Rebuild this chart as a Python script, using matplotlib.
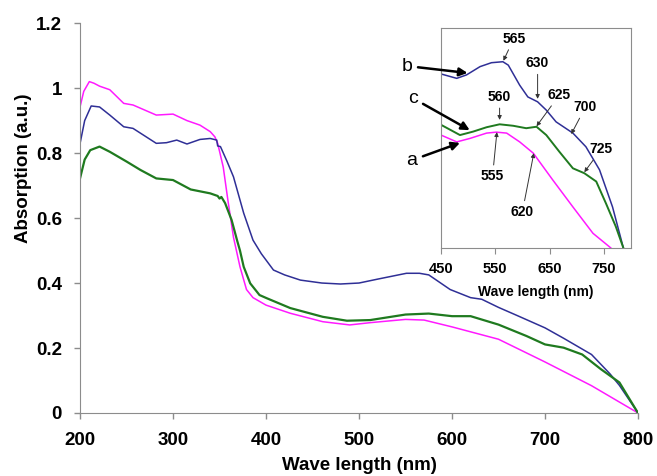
import matplotlib
matplotlib.use('Agg')
import matplotlib.pyplot as plt

plt.rcParams['font.family'] = ['Liberation Sans', 'DejaVu Sans']

# main spectra (wavelength nm, absorption a.u.)
wl_b = [200, 205, 212, 221, 232, 247, 257, 282, 293, 304, 315, 329, 340, 347, 348, 351,
        358, 365, 376, 386, 395, 408, 420, 437, 460, 480, 500, 520, 551, 565, 575, 598,
        620, 632, 650, 670, 700, 720, 750, 770, 780, 800]
abs_b = [0.829, 0.90, 0.945, 0.942, 0.917, 0.881, 0.876, 0.83, 0.832, 0.84, 0.828, 0.842,
         0.845, 0.84, 0.822, 0.82, 0.775, 0.727, 0.615, 0.532, 0.49, 0.44, 0.425, 0.409,
         0.40, 0.397, 0.40, 0.412, 0.43, 0.43, 0.425, 0.38, 0.355, 0.35, 0.325, 0.30,
         0.262, 0.23, 0.18, 0.12, 0.085, 0.0]

wl_a = [200, 204, 210, 215, 221, 232, 247, 257, 282, 300, 315, 329, 340, 345, 348, 354,
        359, 365, 372, 379, 386, 400, 426, 461, 490, 512, 550, 570, 600, 650, 700, 750, 800]
abs_a = [0.942, 0.99, 1.02, 1.015, 1.006, 0.995, 0.953, 0.948, 0.917, 0.92, 0.90, 0.886,
         0.866, 0.85, 0.83, 0.757, 0.655, 0.541, 0.45, 0.38, 0.355, 0.332, 0.307, 0.281,
         0.271, 0.278, 0.288, 0.286, 0.265, 0.227, 0.157, 0.084, 0.0]

wl_c = [200, 205, 211, 221, 232, 250, 265, 282, 300, 319, 340, 348, 350, 352, 356, 363,
        369, 372, 376, 383, 393, 401, 426, 461, 487, 512, 550, 575, 600, 620, 650, 680,
        700, 720, 740, 760, 780, 800]
abs_c = [0.722, 0.78, 0.809, 0.82, 0.804, 0.774, 0.748, 0.722, 0.717, 0.688, 0.676, 0.668,
         0.66, 0.665, 0.646, 0.594, 0.53, 0.50, 0.45, 0.399, 0.363, 0.353, 0.323, 0.296,
         0.284, 0.286, 0.303, 0.306, 0.298, 0.298, 0.272, 0.237, 0.211, 0.201, 0.18,
         0.135, 0.094, 0.0]

# inset spectra (450-800 nm)
iwl_b = [450, 479, 497, 522, 543, 564, 574, 595, 610, 628, 644, 662, 693, 717, 742, 766, 786, 800]
iabs_b = [0.406, 0.397, 0.404, 0.421, 0.429, 0.431, 0.424, 0.383, 0.359, 0.349, 0.332,
          0.308, 0.285, 0.257, 0.21, 0.134, 0.05, 0.0]
iwl_c = [450, 485, 509, 534, 558, 583, 607, 626, 644, 668, 693, 714, 736, 754, 772, 786, 800]
iabs_c = [0.302, 0.281, 0.288, 0.297, 0.303, 0.30, 0.295, 0.298, 0.281, 0.247, 0.213,
          0.203, 0.186, 0.141, 0.094, 0.05, 0.0]
iwl_a = [450, 479, 503, 534, 552, 571, 595, 620, 656, 693, 730, 763, 800]
iabs_a = [0.281, 0.267, 0.274, 0.285, 0.287, 0.285, 0.267, 0.244, 0.189, 0.134, 0.08,
          0.05, 0.0]

# peak labels: (text, target wl, target y, text wl, text y)
peaks = [('565', 565, 0.433, 584, 0.478),
         ('630', 628, 0.355, 628, 0.428),
         ('625', 626, 0.299, 668, 0.363),
         ('700', 690, 0.283, 716, 0.338),
         ('725', 714, 0.205, 745, 0.252),
         ('560', 558, 0.312, 558, 0.359),
         ('555', 553, 0.287, 545, 0.197),
         ('620', 621, 0.244, 600, 0.124)]

blue = '#2f2f96'
green = '#1f7a1f'
pink = '#ff1aff'
gray = '#8c8c8c'

fig = plt.figure(figsize=(6.57, 4.76), dpi=100)
ax = fig.add_axes([0.1218, 0.1324, 0.8493, 0.819])
ax.plot(wl_a, abs_a, color=pink, lw=1.1)
ax.plot(wl_b, abs_b, color=blue, lw=1.1)
ax.plot(wl_c, abs_c, color=green, lw=1.6)
ax.set_xlim(200, 800)
ax.set_ylim(0, 1.2)
ax.set_xticks([200, 300, 400, 500, 600, 700, 800])
ax.set_yticks([0, 0.2, 0.4, 0.6, 0.8, 1.0, 1.2])
ax.set_yticklabels(['0', '0.2', '0.4', '0.6', '0.8', '1', '1.2'])
for s in ['top', 'right']:
    ax.spines[s].set_visible(False)
for s in ['left', 'bottom']:
    ax.spines[s].set_color(gray)
ax.tick_params(colors=gray, labelcolor='black', length=4, width=1, labelsize=13.5)
ax.tick_params(axis='x', pad=10)
ax.tick_params(axis='y', pad=9)
for lab in ax.get_xticklabels() + ax.get_yticklabels():
    lab.set_fontweight('bold')
ax.set_xlabel('Wave length (nm)', fontsize=13.5, fontweight='bold', va='center')
ax.xaxis.set_label_coords(0.5, -0.136)
ax.set_ylabel('Absorption (a.u.)', fontsize=13.5, fontweight='bold', va='center')
ax.yaxis.set_label_coords(-0.102, 0.628)

ins = fig.add_axes([0.6712, 0.479, 0.2892, 0.4622])
ins.plot(iwl_a, iabs_a, color=pink, lw=1.1)
ins.plot(iwl_b, iabs_b, color=blue, lw=1.1)
ins.plot(iwl_c, iabs_c, color=green, lw=1.4)
ins.set_xlim(450, 800)
ins.set_ylim(0.05, 0.5)
ins.set_xticks([450, 550, 650, 750])
ins.set_yticks([])
for s in ins.spines.values():
    s.set_color(gray)
ins.tick_params(colors=gray, labelcolor='black', length=4, labelsize=10.5, pad=6)
for lab in ins.get_xticklabels():
    lab.set_fontweight('bold')
ins.set_xlabel('Wave length (nm)', fontsize=10, fontweight='bold', va='center')
ins.xaxis.set_label_coords(0.5, -0.2)

for txt, x, y, tx, ty in peaks:
    ins.annotate(txt, xy=(x, y), xytext=(tx, ty), fontsize=10, fontweight='bold',
                 ha='center', va='center',
                 arrowprops=dict(arrowstyle='-|>', color='#333333', lw=0.7,
                                 mutation_scale=6, shrinkA=1, shrinkB=0))

# curve labels with arrows into the inset
for txt, x, y, tx, ty in [('b', 499, 0.408, 551.6, 1.068),
                          ('c', 503, 0.291, 558, 0.969),
                          ('a', 485, 0.265, 557, 0.778)]:
    ins.annotate(txt, xy=(x, y), xytext=(tx, ty), textcoords=ax.transData,
                 fontsize=14, ha='center', va='center', annotation_clip=False,
                 arrowprops=dict(arrowstyle='-|>', color='black', lw=1.8,
                                 mutation_scale=12, shrinkA=2, shrinkB=0))

plt.savefig('out.png', dpi=100)
